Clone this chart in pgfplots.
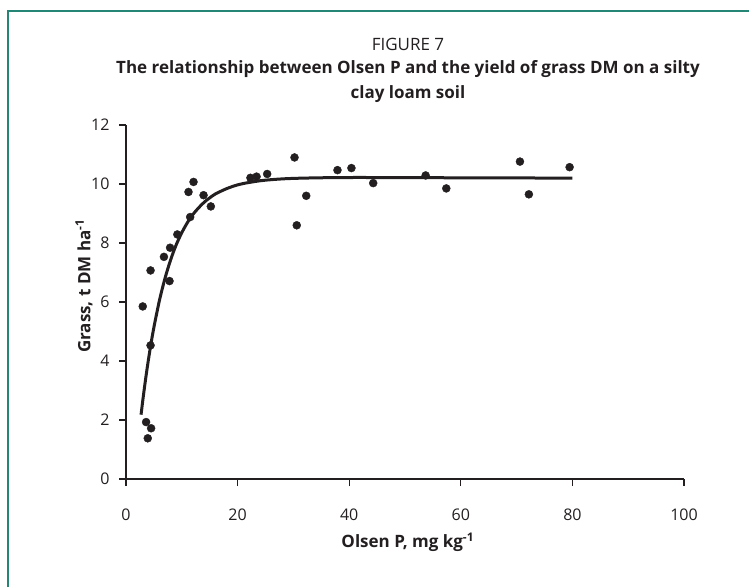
\documentclass[border=0pt]{standalone}
\usepackage{fontspec}
\setmainfont{Open Sans}
\usepackage{pgfplots}
\pgfplotsset{compat=1.18}
\definecolor{frame}{RGB}{38,134,118}
\definecolor{ink}{RGB}{35,31,32}
\begin{document}
\begin{tikzpicture}[x=1pt,y=1pt]
\path[use as bounding box] (0,0) rectangle (749,587);
\draw[frame, line width=2pt] (8,0) -- (8,576) -- (749,576);
\node[ink, font=\fontsize{17}{20}\selectfont] at (408,543) {FIGURE 7};
\node[ink, font=\fontsize{17}{25}\selectfont\bfseries, align=center] at (408,505.5) {The relationship between Olsen P and the yield of grass DM on a silty\\clay loam soil};
\begin{axis}[
  at={(126pt,108pt)}, anchor=south west,
  scale only axis, width=558pt, height=354pt,
  xmin=0, xmax=100, ymin=0, ymax=12,
  axis lines=left,
  axis line style={-, line width=1.3pt, ink},
  xtick={0,20,...,100}, ytick={0,2,...,12},
  tick align=outside, major tick length=7pt,
  tick style={line width=1.3pt, ink},
  /pgf/number format/assume math mode=true,
  tick label style={font=\fontsize{16}{18}\selectfont, text=ink},
  xticklabel style={yshift=-19pt},
  yticklabel style={xshift=-6pt},
  xlabel={Olsen P, mg kg\textsuperscript{-1}},
  ylabel={Grass, t DM ha\textsuperscript{-1}},
  every axis x label/.style={at={(axis description cs:0.505,-0.178)}, anchor=center, font=\fontsize{17}{20}\selectfont\bfseries, text=ink},
  every axis y label/.style={at={(axis description cs:-0.0753,0.545)}, anchor=center, rotate=90, font=\fontsize{17}{20}\selectfont\bfseries, text=ink},
  clip=false,
]
\addplot[ink, line width=3pt, smooth] coordinates {
(2.7,2.18) (3.0,2.65) (3.5,3.37) (4,4.02) (4.5,4.61) (5,5.14) (6,6.06) (7,6.81) (8,7.43) (9,7.94) (10,8.35) (11,8.69) (12,8.97) (13,9.19) (14,9.38) (15,9.53) (16,9.66) (18,9.84) (20,9.97) (22,10.05) (25,10.13) (30,10.19) (40,10.22) (60,10.21) (80,10.2)
};
\addplot[only marks, mark=*, mark size=4pt, ink, mark options={fill=ink, draw=ink}] coordinates {
(30.2,10.9) (32.3,9.6) (30.6,8.6) (25.3,10.34) (23.4,10.25) (22.3,10.21)
(12.1,10.07) (11.2,9.73) (13.9,9.62) (15.2,9.24) (11.5,8.88) (9.2,8.29)
(7.9,7.84) (6.8,7.53) (4.4,7.07) (7.8,6.71) (3.0,5.85) (4.4,4.53)
(3.6,1.93) (4.5,1.72) (3.9,1.38)
(37.9,10.47) (40.4,10.54) (44.3,10.03) (53.7,10.29) (57.4,9.85)
(70.6,10.76) (72.2,9.65) (79.5,10.57)
};
\end{axis}
\end{tikzpicture}
\end{document}
